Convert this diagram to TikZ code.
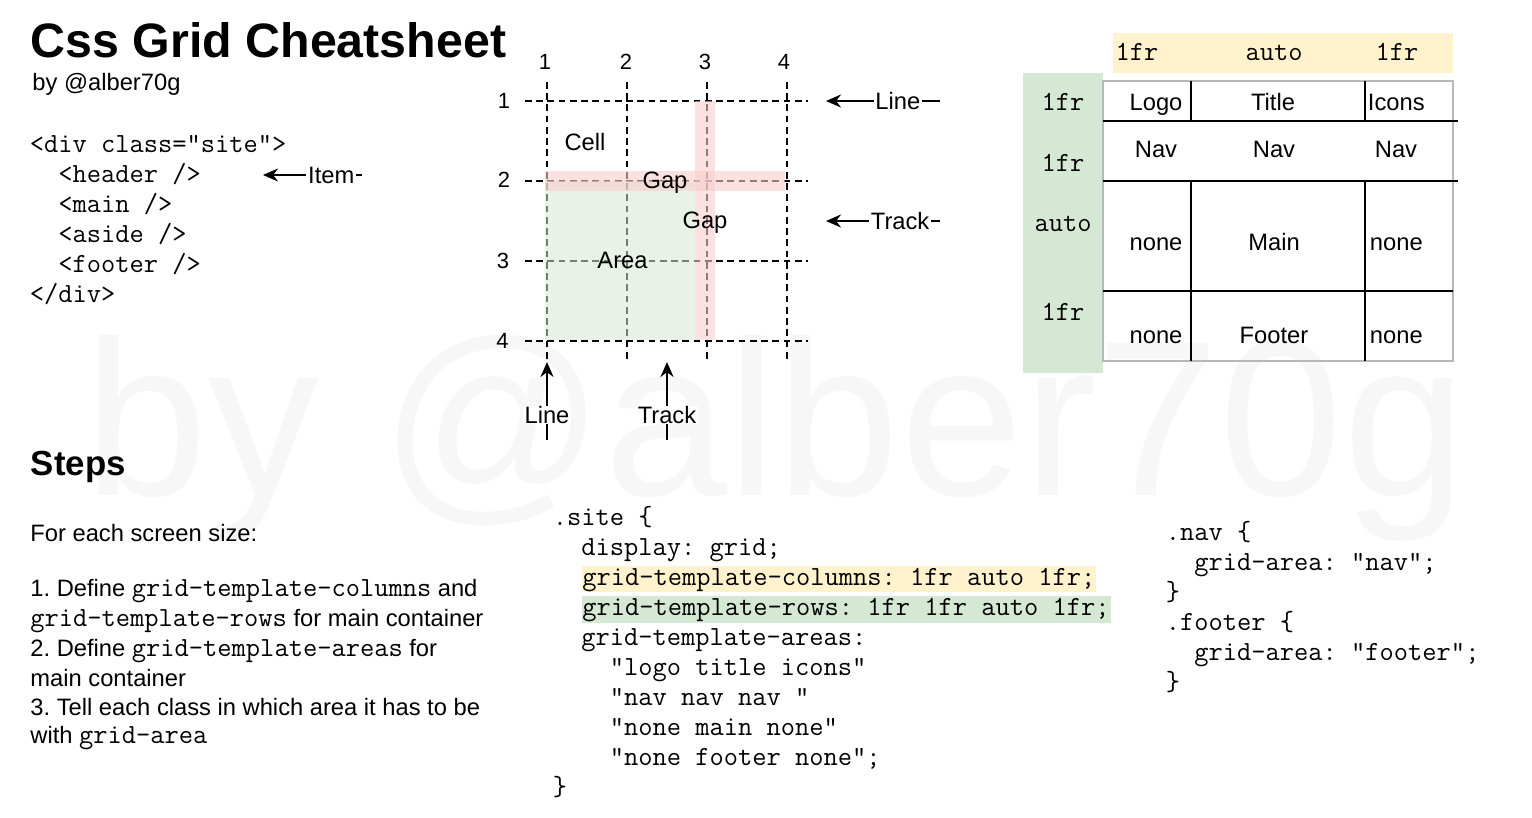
\documentclass[tikz,border=0pt]{standalone}
\usepackage{fontspec}
\setmainfont{Liberation Sans}
\usepackage{tikz}
\usetikzlibrary{arrows.meta}

\definecolor{gapred}{HTML}{F8CECC}
\definecolor{areagreen}{HTML}{D5E8D4}
\definecolor{colyellow}{HTML}{FFF2CC}
\definecolor{tablegray}{HTML}{B8B8B8}
\frenchspacing
\newcommand{\bodysize}{\fontsize{13.5}{16}\selectfont}
\newcommand{\ttsize}{\fontsize{15.75}{18}\selectfont}
\newcommand{\numsize}{\fontsize{12.5}{15}\selectfont}
\newcommand{\tcode}[1]{{\ttfamily\ttsize #1}}

\begin{document}
\begin{tikzpicture}[x=0.02cm,y=-0.02cm,line width=1.1pt,>={Stealth[length=3mm,width=2.6mm]},
  txt/.style={inner sep=0pt,font=\bodysize,anchor=base},
  mono/.style={inner sep=0pt,font=\ttfamily\ttsize,anchor=base west},
  num/.style={inner sep=0pt,font=\numsize,anchor=base},
  gridline/.style={dash pattern=on 3.8pt off 2.6pt},
  tag/.style={fill=white,inner xsep=1pt,inner ysep=0pt,font=\bodysize},
  pointer/.style={->}]
  \useasboundingbox (0,0) rectangle (1532,818);
  \node[anchor=base west,inner sep=0pt,text=black!3,font=\fontsize{126}{130}\selectfont] (mark) at (84,495) {by @alber70g};

  \node[anchor=base west,inner sep=0pt,font=\bfseries\fontsize{27.5}{30}\selectfont] (title) at (30,57) {Css Grid Cheatsheet};
  \node[txt,anchor=base west] (byline) at (31.5,90) {by @alber70g};

  \node[mono] (html1) at (29,152) {<div class="site">};
  \node[mono] (html2) at (29,182) {\phantom{xx}<header />};
  \node[mono] (html3) at (29,212) {\phantom{xx}<main />};
  \node[mono] (html4) at (29,242) {\phantom{xx}<aside />};
  \node[mono] (html5) at (29,272) {\phantom{xx}<footer />};
  \node[mono] (html6) at (29,302) {</div>};
  \coordinate (itemEnd) at (362,175);
  \coordinate (itemTip) at (263,175);
  \draw[pointer] (itemEnd) -- node[tag,pos=0.31] (itemLbl) {Item} (itemTip);

  \foreach \x in {547,627,707,787} \draw[gridline] (\x,82) -- (\x,362);
  \foreach \y in {101,181,261,341} \draw[gridline] (525,\y) -- (808,\y);
  \fill[areagreen,opacity=0.55] (545,181) rectangle (695,340);
  \fill[gapred,opacity=0.6] (545,171) rectangle (785,191);
  \fill[gapred,opacity=0.6] (695,101) rectangle (715,340);
  \node[num] (col1) at (545,69.5) {1};
  \node[num] (col2) at (626,69.5) {2};
  \node[num] (col3) at (705,69.5) {3};
  \node[num] (col4) at (784,69.5) {4};
  \node[num] (row1) at (504,108.5) {1};
  \node[num] (row2) at (504,187.5) {2};
  \node[num] (row3) at (503,268) {3};
  \node[num] (row4) at (502.5,348) {4};
  \node[txt] (cell) at (585,150) {Cell};
  \node[txt] (rowgap) at (665,188) {Gap};
  \node[txt] (colgap) at (705,228) {Gap};
  \node[txt] (area) at (622.5,268) {Area};

  \coordinate (lineEnd) at (940,101);
  \coordinate (lineTip) at (826,101);
  \draw[pointer] (lineEnd) -- node[tag,pos=0.37] (lineLbl) {Line} (lineTip);
  \coordinate (trackEnd) at (940,221);
  \coordinate (trackTip) at (826,221);
  \draw[pointer] (trackEnd) -- node[tag,pos=0.35] (trackLbl) {Track} (trackTip);
  \coordinate (lineBEnd) at (547,440);
  \coordinate (lineBTip) at (547,362);
  \draw[pointer] (lineBEnd) -- node[tag,pos=0.32] (lineBLbl) {Line} (lineBTip);
  \coordinate (trackBEnd) at (667,440);
  \coordinate (trackBTip) at (667,362);
  \draw[pointer] (trackBEnd) -- node[tag,pos=0.32] (trackBLbl) {Track} (trackBTip);

  \fill[colyellow] (1113,33) rectangle (1453,73);
  \fill[areagreen] (1023,73) rectangle (1103,373);
  \node[txt,font=\ttfamily\ttsize] (colA) at (1137,60) {1fr};
  \node[txt,font=\ttfamily\ttsize] (colB) at (1274,60) {auto};
  \node[txt,font=\ttfamily\ttsize] (colC) at (1397,60) {1fr};
  \node[txt,font=\ttfamily\ttsize] (rowA) at (1063,110) {1fr};
  \node[txt,font=\ttfamily\ttsize] (rowB) at (1063,171.5) {1fr};
  \node[txt,font=\ttfamily\ttsize] (rowC) at (1063,231.5) {auto};
  \node[txt,font=\ttfamily\ttsize] (rowD) at (1063,320) {1fr};
  \draw[tablegray] (1103,81) rectangle (1453,361);
  \draw (1103,121) -- (1458,121) (1103,181) -- (1458,181) (1103,291) -- (1453,291);
  \draw (1191,81) -- (1191,121) (1191,181) -- (1191,361);
  \draw (1365,81) -- (1365,121) (1365,181) -- (1365,361);
  \node[txt] (logo) at (1156,110) {Logo};
  \node[txt] (titlecell) at (1273,110) {Title};
  \node[txt,anchor=base west] (icons) at (1367,110) {Icons};
  \node[txt] (navA) at (1156,157) {Nav};
  \node[txt] (navB) at (1274,157) {Nav};
  \node[txt] (navC) at (1396,157) {Nav};
  \node[txt] (noneA) at (1156,250) {none};
  \node[txt] (main) at (1274,250) {Main};
  \node[txt,anchor=base west] (noneB) at (1369,250) {none};
  \node[txt] (noneC) at (1156,343.5) {none};
  \node[txt] (footer) at (1274,343.5) {Footer};
  \node[txt,anchor=base west] (noneD) at (1369,343.5) {none};

  \node[anchor=base west,inner sep=0pt,font=\bfseries\fontsize{19.8}{22}\selectfont] (steps) at (30,475) {Steps};
  \node[txt,anchor=base west] (step0) at (29.5,541.7) {For each screen size:};
  \node[txt,anchor=base west] (step1) at (29.5,596.7) {1. Define \tcode{grid-template-columns} and};
  \node[txt,anchor=base west] (step2) at (29.5,626.7) {\tcode{grid-template-rows} for main container};
  \node[txt,anchor=base west] (step3) at (29.5,656.7) {2. Define \tcode{grid-template-areas} for};
  \node[txt,anchor=base west] (step4) at (29.5,686.2) {main container};
  \node[txt,anchor=base west] (step5) at (29.5,715) {3. Tell each class in which area it has to be};
  \node[txt,anchor=base west] (step6) at (29.5,743.5) {with \tcode{grid-area}};

  \node[mono] (css1) at (552,525.7) {.site \{};
  \node[mono] (css2) at (552,555.7) {\phantom{xx}display: grid;};
  \node[mono,fill=colyellow,inner xsep=0.5pt,text height=11.2pt,text depth=3.6pt] (css3) at (580.6,585.7) {grid-template-columns: 1fr auto 1fr;};
  \node[mono,fill=areagreen,inner xsep=0.5pt,text height=11.2pt,text depth=4.1pt] (css4) at (580.6,615.7) {grid-template-rows: 1fr 1fr auto 1fr;};
  \node[mono] (css5) at (552,645.7) {\phantom{xx}grid-template-areas:};
  \node[mono] (css6) at (552,675.7) {\phantom{xxxx}"logo title icons"};
  \node[mono] (css7) at (552,705.7) {\phantom{xxxx}"nav nav nav "};
  \node[mono] (css8) at (552,735.7) {\phantom{xxxx}"none main none"};
  \node[mono] (css9) at (552,765.7) {\phantom{xxxx}"none footer none";};
  \node[mono] (css10) at (552,795.7) {\}};

  \node[mono] (nav1) at (1165,540.7) {.nav \{};
  \node[mono] (nav2) at (1165,570.7) {\phantom{xx}grid-area: "nav";};
  \node[mono] (nav3) at (1165,600.7) {\}};
  \node[mono] (nav4) at (1165,630.7) {.footer \{};
  \node[mono] (nav5) at (1165,660.7) {\phantom{xx}grid-area: "footer";};
  \node[mono] (nav6) at (1165,690.7) {\}};
\end{tikzpicture}
\end{document}
